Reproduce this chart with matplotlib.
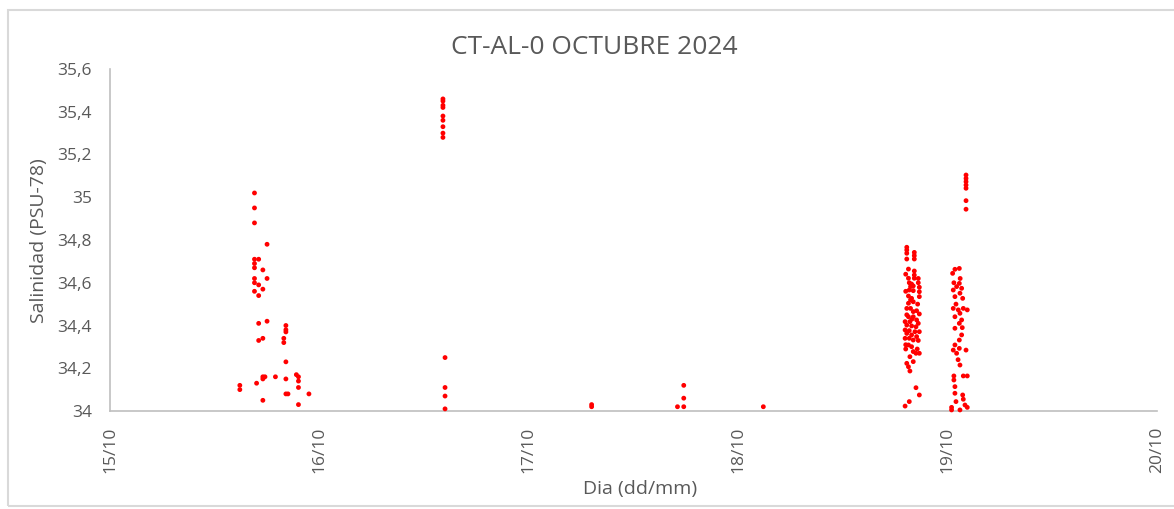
import numpy as np
import matplotlib.pyplot as plt
from matplotlib.patches import Rectangle

# dia del mes (octubre) con fraccion horaria, y salinidad
dia_15 = [15.69, 15.69, 15.69, 15.75, 15.69, 15.71, 15.69, 15.69, 15.73, 15.69, 15.75,
          15.69, 15.71, 15.73, 15.69, 15.71, 15.71, 15.75, 15.71, 15.73, 15.84, 15.84,
          15.84, 15.83, 15.83, 15.84, 15.73, 15.74, 15.73, 15.79, 15.84, 15.89, 15.90,
          15.90, 15.70, 15.62, 15.62, 15.90, 15.84, 15.85, 15.95, 15.73, 15.90]
sal_15 = [35.02, 34.95, 34.88, 34.78, 34.71, 34.71, 34.69, 34.67, 34.66, 34.62, 34.62,
          34.60, 34.59, 34.57, 34.56, 34.54, 34.41, 34.42, 34.33, 34.34, 34.40, 34.38,
          34.37, 34.34, 34.32, 34.23, 34.16, 34.16, 34.15, 34.16, 34.15, 34.17, 34.16,
          34.14, 34.13, 34.12, 34.10, 34.11, 34.08, 34.08, 34.08, 34.05, 34.03]

dia_16 = [16.59, 16.59, 16.59, 16.59, 16.59, 16.59, 16.59, 16.59, 16.59,
          16.60, 16.60, 16.60, 16.60]
sal_16 = [35.46, 35.45, 35.43, 35.42, 35.38, 35.36, 35.33, 35.30, 35.28,
          34.25, 34.11, 34.07, 34.01]

dia_17 = [17.30, 17.30, 17.74, 17.74, 17.71, 17.74, 18.12]
sal_17 = [34.02, 34.03, 34.12, 34.06, 34.02, 34.02, 34.02]

dia_18 = [18.805, 18.805, 18.805, 18.805, 18.841, 18.841, 18.841, 18.813, 18.841, 18.841,
          18.813, 18.841, 18.817, 18.828, 18.823, 18.836, 18.865, 18.817, 18.836, 18.865,
          18.865, 18.813, 18.828, 18.836, 18.813, 18.823, 18.805, 18.836, 18.852, 18.865,
          18.813, 18.836, 18.797, 18.820, 18.852, 18.860, 18.805, 18.828, 18.849, 18.797,
          18.817, 18.844, 18.865, 18.805, 18.828, 18.797, 18.817, 18.836, 18.852, 18.813,
          18.828, 18.836, 18.849, 18.865, 18.820, 18.805, 18.836, 18.813, 18.820, 18.849,
          18.865, 18.817, 18.797, 18.823, 18.805, 18.857, 18.800, 18.860, 18.800, 18.860,
          18.800, 18.860, 18.830, 18.800, 18.855]
sal_18 = [34.766, 34.753, 34.738, 34.711, 34.742, 34.727, 34.711, 34.664, 34.655, 34.636,
          34.621, 34.621, 34.600, 34.594, 34.582, 34.585, 34.579, 34.566, 34.563, 34.558,
          34.535, 34.538, 34.527, 34.511, 34.504, 34.480, 34.480, 34.465, 34.469, 34.454,
          34.441, 34.441, 34.418, 34.418, 34.426, 34.410, 34.402, 34.398, 34.394, 34.379,
          34.376, 34.371, 34.371, 34.363, 34.356, 34.340, 34.340, 34.332, 34.348, 34.309,
          34.301, 34.278, 34.270, 34.270, 34.254, 34.223, 34.231, 34.207, 34.187, 34.109,
          34.075, 34.044, 34.023, 34.520, 34.450, 34.500, 34.310, 34.330, 34.560, 34.620,
          34.640, 34.600, 34.430, 34.290, 34.290]

dia_19 = [19.088, 19.088, 19.088, 19.088, 19.088, 19.088, 19.088, 19.035, 19.056, 19.024,
          19.056, 19.043, 19.067, 19.027, 19.059, 19.035, 19.072, 19.027, 19.051, 19.075,
          19.094, 19.059, 19.035, 19.067, 19.056, 19.035, 19.067, 19.056, 19.035, 19.027,
          19.056, 19.088, 19.043, 19.059, 19.030, 19.075, 19.094, 19.030, 19.035, 19.035,
          19.072, 19.075, 19.040, 19.083, 19.094, 19.019, 19.019, 19.059, 19.040, 19.060,
          19.030, 19.070, 19.050]
sal_19 = [35.104, 35.088, 35.073, 35.057, 35.042, 34.984, 34.944, 34.663, 34.667, 34.644,
          34.597, 34.582, 34.574, 34.566, 34.551, 34.535, 34.527, 34.480, 34.473, 34.480,
          34.473, 34.457, 34.441, 34.426, 34.410, 34.387, 34.356, 34.332, 34.309, 34.285,
          34.293, 34.285, 34.270, 34.215, 34.164, 34.164, 34.164, 34.145, 34.114, 34.083,
          34.075, 34.055, 34.044, 34.028, 34.017, 34.017, 34.005, 34.005, 34.500, 34.620,
          34.600, 34.390, 34.240]

x_ticks = [15, 16, 17, 18, 19, 20]
x_labels = ['15/10', '16/10', '17/10', '18/10', '19/10', '20/10']
y_ticks = [34, 34.2, 34.4, 34.6, 34.8, 35, 35.2, 35.4, 35.6]
y_labels = ['34', '34,2', '34,4', '34,6', '34,8', '35', '35,2', '35,4', '35,6']

plt.rcParams['font.family'] = ['Open Sans', 'DejaVu Sans']
gris = '#595959'

fig = plt.figure(figsize=(11.74, 5.09), dpi=100)
ax = fig.add_axes([110/1174, 1 - 411/509, 1047/1174, 342/509])

for dx, sy in [(dia_15, sal_15), (dia_16, sal_16), (dia_17, sal_17),
               (dia_18, sal_18), (dia_19, sal_19)]:
    ax.scatter(dx, sy, s=12, color='#ff0000', edgecolors='none', zorder=3, clip_on=False)

ax.set_xlim(15, 20)
ax.set_ylim(34, 35.6)
ax.set_xticks(x_ticks)
ax.set_xticklabels(x_labels, rotation=90)
ax.set_yticks(y_ticks)
ax.set_yticklabels(y_labels)
ax.tick_params(length=0, labelsize=12.5, colors=gris)
ax.tick_params(axis='y', pad=13)
ax.tick_params(axis='x', pad=11)
for s in ['top', 'right']:
    ax.spines[s].set_visible(False)
for s in ['left', 'bottom']:
    ax.spines[s].set_color('#bfbfbf')
    ax.spines[s].set_linewidth(1.2)

fig.text(0.506, 0.906, 'CT-AL-0 OCTUBRE 2024', ha='center', va='center', fontsize=19, color=gris)
fig.text(0.033, 0.528, 'Salinidad (PSU-78)', ha='center', va='center', rotation=90,
         fontsize=14, color=gris)
fig.text(0.545, 0.039, 'Dia (dd/mm)', ha='center', va='center', fontsize=14, color=gris)

# marco del grafico
fig.patches.append(Rectangle((8/1174, 1 - 506/509), 1.02, 496/509, transform=fig.transFigure,
                             fill=False, edgecolor='#d9d9d9', linewidth=1.5))

plt.savefig('out.png', dpi=100)
